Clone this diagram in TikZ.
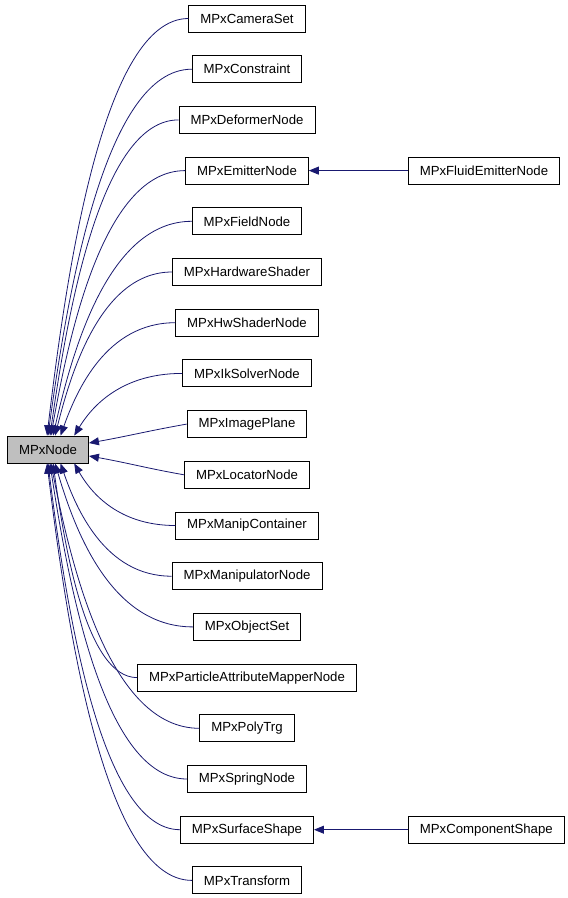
\documentclass[tikz,border=0pt]{standalone}
\usepackage{fontspec}
\setmainfont{Liberation Sans}
\usepackage{tikz}
\usetikzlibrary{positioning,arrows.meta,calc}
\definecolor{edgeblue}{HTML}{191970}
\definecolor{basegray}{HTML}{BFBFBF}
\tikzset{
classbox/.style={
draw,
line width=0.9pt,
fill=white,
minimum height=27pt,
inner xsep=11.5pt,
inner ysep=0pt,
font=\fontsize{13.2}{15}\selectfont
},
basebox/.style={
classbox,
fill=basegray
},
inherit/.style={
{Triangle[length=10pt,width=8pt]}-,
edgeblue,
line width=0.8pt
}
}

\begin{document}
\begin{tikzpicture}[x=1pt,y=-1pt,node distance=22.8pt]
\useasboundingbox (0,0) rectangle (568,898);
\node[basebox](base) at (48,449.5){MPxNode};
\node[classbox](camset) at (247,18.5){MPxCameraSet};
\node[classbox,below=of camset](constr){MPxConstraint};
\node[classbox,below=of constr](deformer){MPxDeformerNode};
\node[classbox,below=of deformer](emitter){MPxEmitterNode};
\node[classbox,below=of emitter](field){MPxFieldNode};
\node[classbox,below=of field](hwshader){MPxHardwareShader};
\node[classbox,below=of hwshader](hwnode){MPxHwShaderNode};
\node[classbox,below=of hwnode](iksolver){MPxIkSolverNode};
\node[classbox,below=of iksolver](imgplane){MPxImagePlane};
\node[classbox,below=of imgplane](locator){MPxLocatorNode};
\node[classbox,below=of locator](manipcont){MPxManipContainer};
\node[classbox,below=of manipcont](manipnode){MPxManipulatorNode};
\node[classbox,below=of manipnode](objset){MPxObjectSet};
\node[classbox,below=of objset](pamnode){MPxParticleAttributeMapperNode};
\node[classbox,below=of pamnode](polytrg){MPxPolyTrg};
\node[classbox,below=of polytrg](spring){MPxSpringNode};
\node[classbox,below=of spring](surface){MPxSurfaceShape};
\node[classbox,below=of surface](xform){MPxTransform};
\node[classbox,right=99pt of emitter](fluid){MPxFluidEmitterNode};
\node[classbox,right=94pt of surface](compshape){MPxComponentShape};

\foreach \n/\a in {camset/94,constr/90,deformer/82,emitter/78,field/70,hwshader/63,hwnode/48,iksolver/28,
manipcont/332,manipnode/312,objset/297,pamnode/290,polytrg/282,spring/278,surface/270,xform/266}{
\coordinate (aim) at ($(base.\a |- \n.west)!.35!(\n.west)$);
\draw[inherit](base.\a) .. controls ($(base.\a)!.4!(aim)$) and ($(\n.west)!.6!(base.\a |- \n.west)$) .. (\n.west);
}
\draw[inherit](base.9) to[out=10,in=190] (imgplane.west);
\draw[inherit](base.-9) to[out=-10,in=170] (locator.west);
\draw[inherit](emitter) -- (fluid);
\draw[inherit](surface) -- (compshape);
\end{tikzpicture}
\end{document}
